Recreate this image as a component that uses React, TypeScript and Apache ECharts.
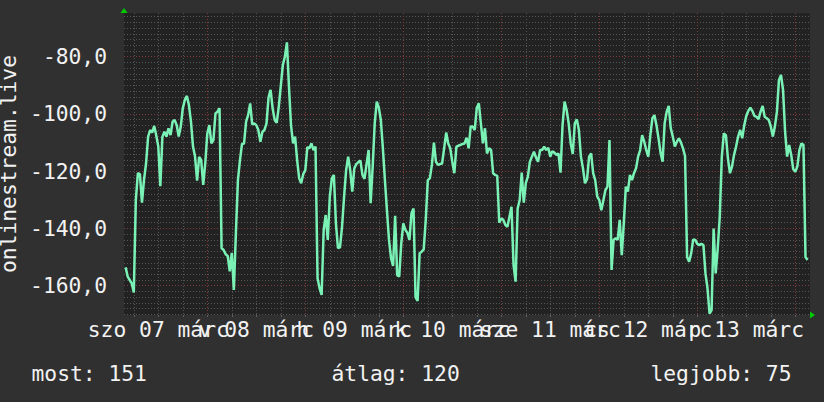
import React, { useEffect, useRef } from "react";
import * as echarts from "echarts";

// Time axis in hours since 2020-03-07 00:00 (RRD step 30 min)
const START_HOUR = 4;
const STEP_HOURS = 0.5;
const X_MIN = 3.6;
const X_MAX = 171.6;
const Y_MIN = -170.23;
const Y_MAX = -64.73;

const signal = [
  -153.6, -156.8, -158, -159.2, -162.4, -130, -120.7, -121, -131, -123,
  -117.3, -108, -105.6, -106.5, -104.2, -107.5, -111.4, -125.2, -108, -106.2,
  -107.9, -105, -107.4, -102.7, -102.1, -103.9, -107.9, -104.4, -98, -95.1,
  -93.7, -96.9, -102.7, -111.4, -114.9, -123.3, -115, -116.1, -124.8, -117.3,
  -106.8, -103.9, -110.3, -109.1, -99.8, -99.2, -98, -146.9, -147.5, -149,
  -149.6, -155, -148.5, -161.5,
  -141.7, -123.1, -116.1, -110.5, -110.3, -102.7, -100.4, -96.3, -103.6, -103.3,
  -103.9, -105.6, -109.7, -106.2, -105.6, -103.3, -94.2, -91.6, -98, -102.1,
  -103.1, -97.5, -90.2, -82.9, -80, -75, -90.5, -103.9, -110.3, -107.9,
  -116.1, -122.5, -124.2, -121, -119.6, -111.6, -112, -110.3, -112.6, -111.4,
  -157.4, -160.9, -163.2, -140.5, -135.3, -144, -128.9, -122.5, -121.3, -138.2,
  -146.9, -146.6, -139.4, -128.9, -119.6, -114.9,
  -119.6, -127.1, -119, -117.5, -116.8, -116.3, -121.3, -122.7, -117.5, -112.6,
  -131.2, -118.4, -103.3, -95.7, -97.7, -102.1, -112, -123.1, -133.8, -144,
  -150.4, -153.1, -135.6, -156.3, -156.8, -145.2, -138.2, -140.5, -141.5, -144,
  -134.7, -133, -164, -165.3, -148.7, -148.1, -147.3, -137, -123.1, -122.5,
  -117.8, -110, -116.7, -117.8, -117.5, -117.3, -112, -106.5, -110.3, -112,
  -116.7, -120.7, -111.4, -111.1, -110.8, -110.5,
  -110.3, -108.3, -112, -104.4, -104.4, -105.6, -97.8, -96.3, -103.3, -110.3,
  -105, -113.8, -112, -112.6, -120.7, -121.3, -121.6, -138, -136.5, -137,
  -138.8, -139.4, -135.9, -132.4, -152.8, -158.6, -133, -130.1, -120.5, -131,
  -124.2, -121.9, -116.7, -114.9, -113.2, -115.2, -116.7, -112.6, -112.6, -111.4,
  -112.6, -111.8, -114.9, -113, -113.5, -114.3, -113.8, -120.5, -103.9, -95.7,
  -98.6, -103.3, -110.3, -114, -103.3, -101.9,
  -105.6, -114.9, -119, -124.2, -122.8, -114.9, -113.8, -120.7, -123.1, -128.9,
  -130.1, -133.6, -130.1, -126.6, -125.4, -109.1, -154.5, -144, -143.4, -144,
  -137, -149.3, -138.2, -125.4, -127.1, -121.3, -123.1, -120.7, -119, -114.9,
  -112.6, -107.4, -109.7, -112.6, -114.9, -107.4, -101.5, -100.4, -103.9, -108.5,
  -113.5, -116.7, -103.3, -99.2, -97.2, -105, -107.9, -111.4, -109.7, -108.5,
  -110, -112, -114.7, -150, -151.6, -148.7,
  -143.8, -144, -145.4, -145.8, -145.4, -145.8, -155.7, -160.9, -169.8, -168.5,
  -140, -155.7, -147, -135.9, -115, -106.8, -107.4, -115.5, -120.7, -118.4,
  -114.3, -111.4, -107.9, -105.6, -108.5, -103.9, -100.7, -98.9, -97.8, -99,
  -100.7, -101, -101.8, -99.2, -97.2, -101, -101.5, -102.1, -104.4, -107.9,
  -104.4, -99.2, -88.1, -86.4, -91.6, -106.2, -114.9, -110.8, -114.3, -119.3,
  -120.2, -118.4, -112.6, -110.3, -110.8, -150, -151,
];

const dayLabels = [
  "szo 07 márc",
  "v 08 márc",
  "h 09 márc",
  "k 10 márc",
  "sze 11 márc",
  "cs 12 márc",
  "p 13 márc",
];
const yLabelValues = [-160, -140, -120, -100, -80];
const statTexts = ["most: 151", "átlag: 120", "legjobb: 75"];
const yName = "onlinestream.live";

const FONT = '"DejaVu Sans Mono", monospace';
const FS = 21.3;
const TEXT = "#f2f2f2";
const MINOR = "#555555";
const MAJOR = "#803c3c";
const ARROW = "#00cc00";

export default function App() {
  const ref = useRef<HTMLDivElement>(null);
  useEffect(() => {
    if (!ref.current) return;
    const chart = echarts.init(ref.current, undefined, { renderer: "svg" });

    const data = signal.map((v, i) => [START_HOUR + i * STEP_HOURS, v]);
    const minorX: number[] = [];
    const majorX: number[] = [];
    for (let h = 6; h < X_MAX; h += 6) (h % 24 === 0 ? majorX : minorX).push(h);
    const noonX = dayLabels.map((_, i) => 12 + 24 * i);
    const noonEven = noonX.filter((_, i) => i % 2 === 0);
    const noonOdd = noonX.filter((_, i) => i % 2 === 1);
    const minorY: number[] = [];
    const majorY: number[] = [];
    for (let v = -170; v <= -66; v += 2) (v % 20 === 0 ? majorY : minorY).push(v);

    const arrowLine = {
      show: true,
      symbol: ["none", "triangle"],
      symbolSize: [7, 5],
      symbolOffset: [0, 2.5],
      lineStyle: { color: ARROW, width: 0 },
    };
    const dayLabel = (values: number[]) => ({
      show: true,
      customValues: values,
      showMinLabel: true,
      showMaxLabel: true,
      hideOverlap: false,
      formatter: (v: number) => dayLabels[Math.round((v - 12) / 24)] ?? "",
      color: TEXT,
      fontFamily: FONT,
      fontSize: FS,
      margin: 4,
    });

    chart.setOption({
      animation: false,
      backgroundColor: "#303030",
      grid: {
        left: 124,
        right: 14,
        top: 13,
        bottom: 87,
        show: true,
        backgroundColor: "#222222",
        borderWidth: 0,
        containLabel: false,
        outerBoundsMode: "none",
      },
      xAxis: [
        {
          type: "value",
          min: X_MIN,
          max: X_MAX,
          position: "bottom",
          axisLine: arrowLine,
          axisTick: { show: true, length: 2, customValues: minorX, lineStyle: { color: "#606060" } },
          splitLine: { show: true, lineStyle: { color: MINOR, type: [1, 2], width: 1 } },
          axisLabel: dayLabel(noonEven),
        },
        {
          type: "value",
          min: X_MIN,
          max: X_MAX,
          position: "bottom",
          axisLine: { show: false },
          axisTick: { show: true, length: 2, customValues: majorX, lineStyle: { color: "#606060" } },
          splitLine: { show: true, lineStyle: { color: MAJOR, type: [1, 2], width: 1 } },
          axisLabel: dayLabel(noonOdd),
        },
      ],
      yAxis: [
        {
          type: "value",
          min: Y_MIN,
          max: Y_MAX,
          position: "left",
          name: yName,
          nameLocation: "middle",
          nameRotate: 90,
          nameGap: 94,
          nameTextStyle: { color: TEXT, fontFamily: FONT, fontSize: FS },
          axisLine: arrowLine,
          axisTick: { show: false, customValues: minorY },
          splitLine: { show: true, lineStyle: { color: MINOR, type: [1, 2], width: 1 } },
          axisLabel: {
            show: true,
            customValues: yLabelValues,
            showMinLabel: true,
            showMaxLabel: true,
            formatter: (v: number) => v.toFixed(1).replace(".", ","),
            color: TEXT,
            fontFamily: FONT,
            fontSize: FS,
            margin: 17,
          },
        },
        {
          type: "value",
          min: Y_MIN,
          max: Y_MAX,
          position: "left",
          axisLine: { show: false },
          axisTick: { show: false, customValues: majorY },
          splitLine: { show: true, lineStyle: { color: MAJOR, type: [1, 2], width: 1 } },
          axisLabel: { show: false },
        },
      ],
      series: [
        {
          type: "line",
          xAxisIndex: 0,
          yAxisIndex: 0,
          data,
          showSymbol: false,
          lineStyle: { color: "#7af2b6", width: 2.5 },
          z: 5,
        },
      ],
      graphic: [
        {
          type: "text",
          left: 31.5,
          top: 363,
          style: { text: statTexts[0], fill: TEXT, font: `${FS}px ${FONT}` },
        },
        {
          type: "text",
          left: 331.5,
          top: 363,
          style: { text: statTexts[1], fill: TEXT, font: `${FS}px ${FONT}` },
        },
        {
          type: "text",
          right: 32.5,
          top: 363,
          style: { text: statTexts[2], fill: TEXT, font: `${FS}px ${FONT}` },
        },
      ],
    });
    return () => chart.dispose();
  }, []);

  return (
    <div
      ref={ref}
      style={{ position: "fixed", left: 0, top: 0, width: 824, height: 402 }}
    />
  );
}
